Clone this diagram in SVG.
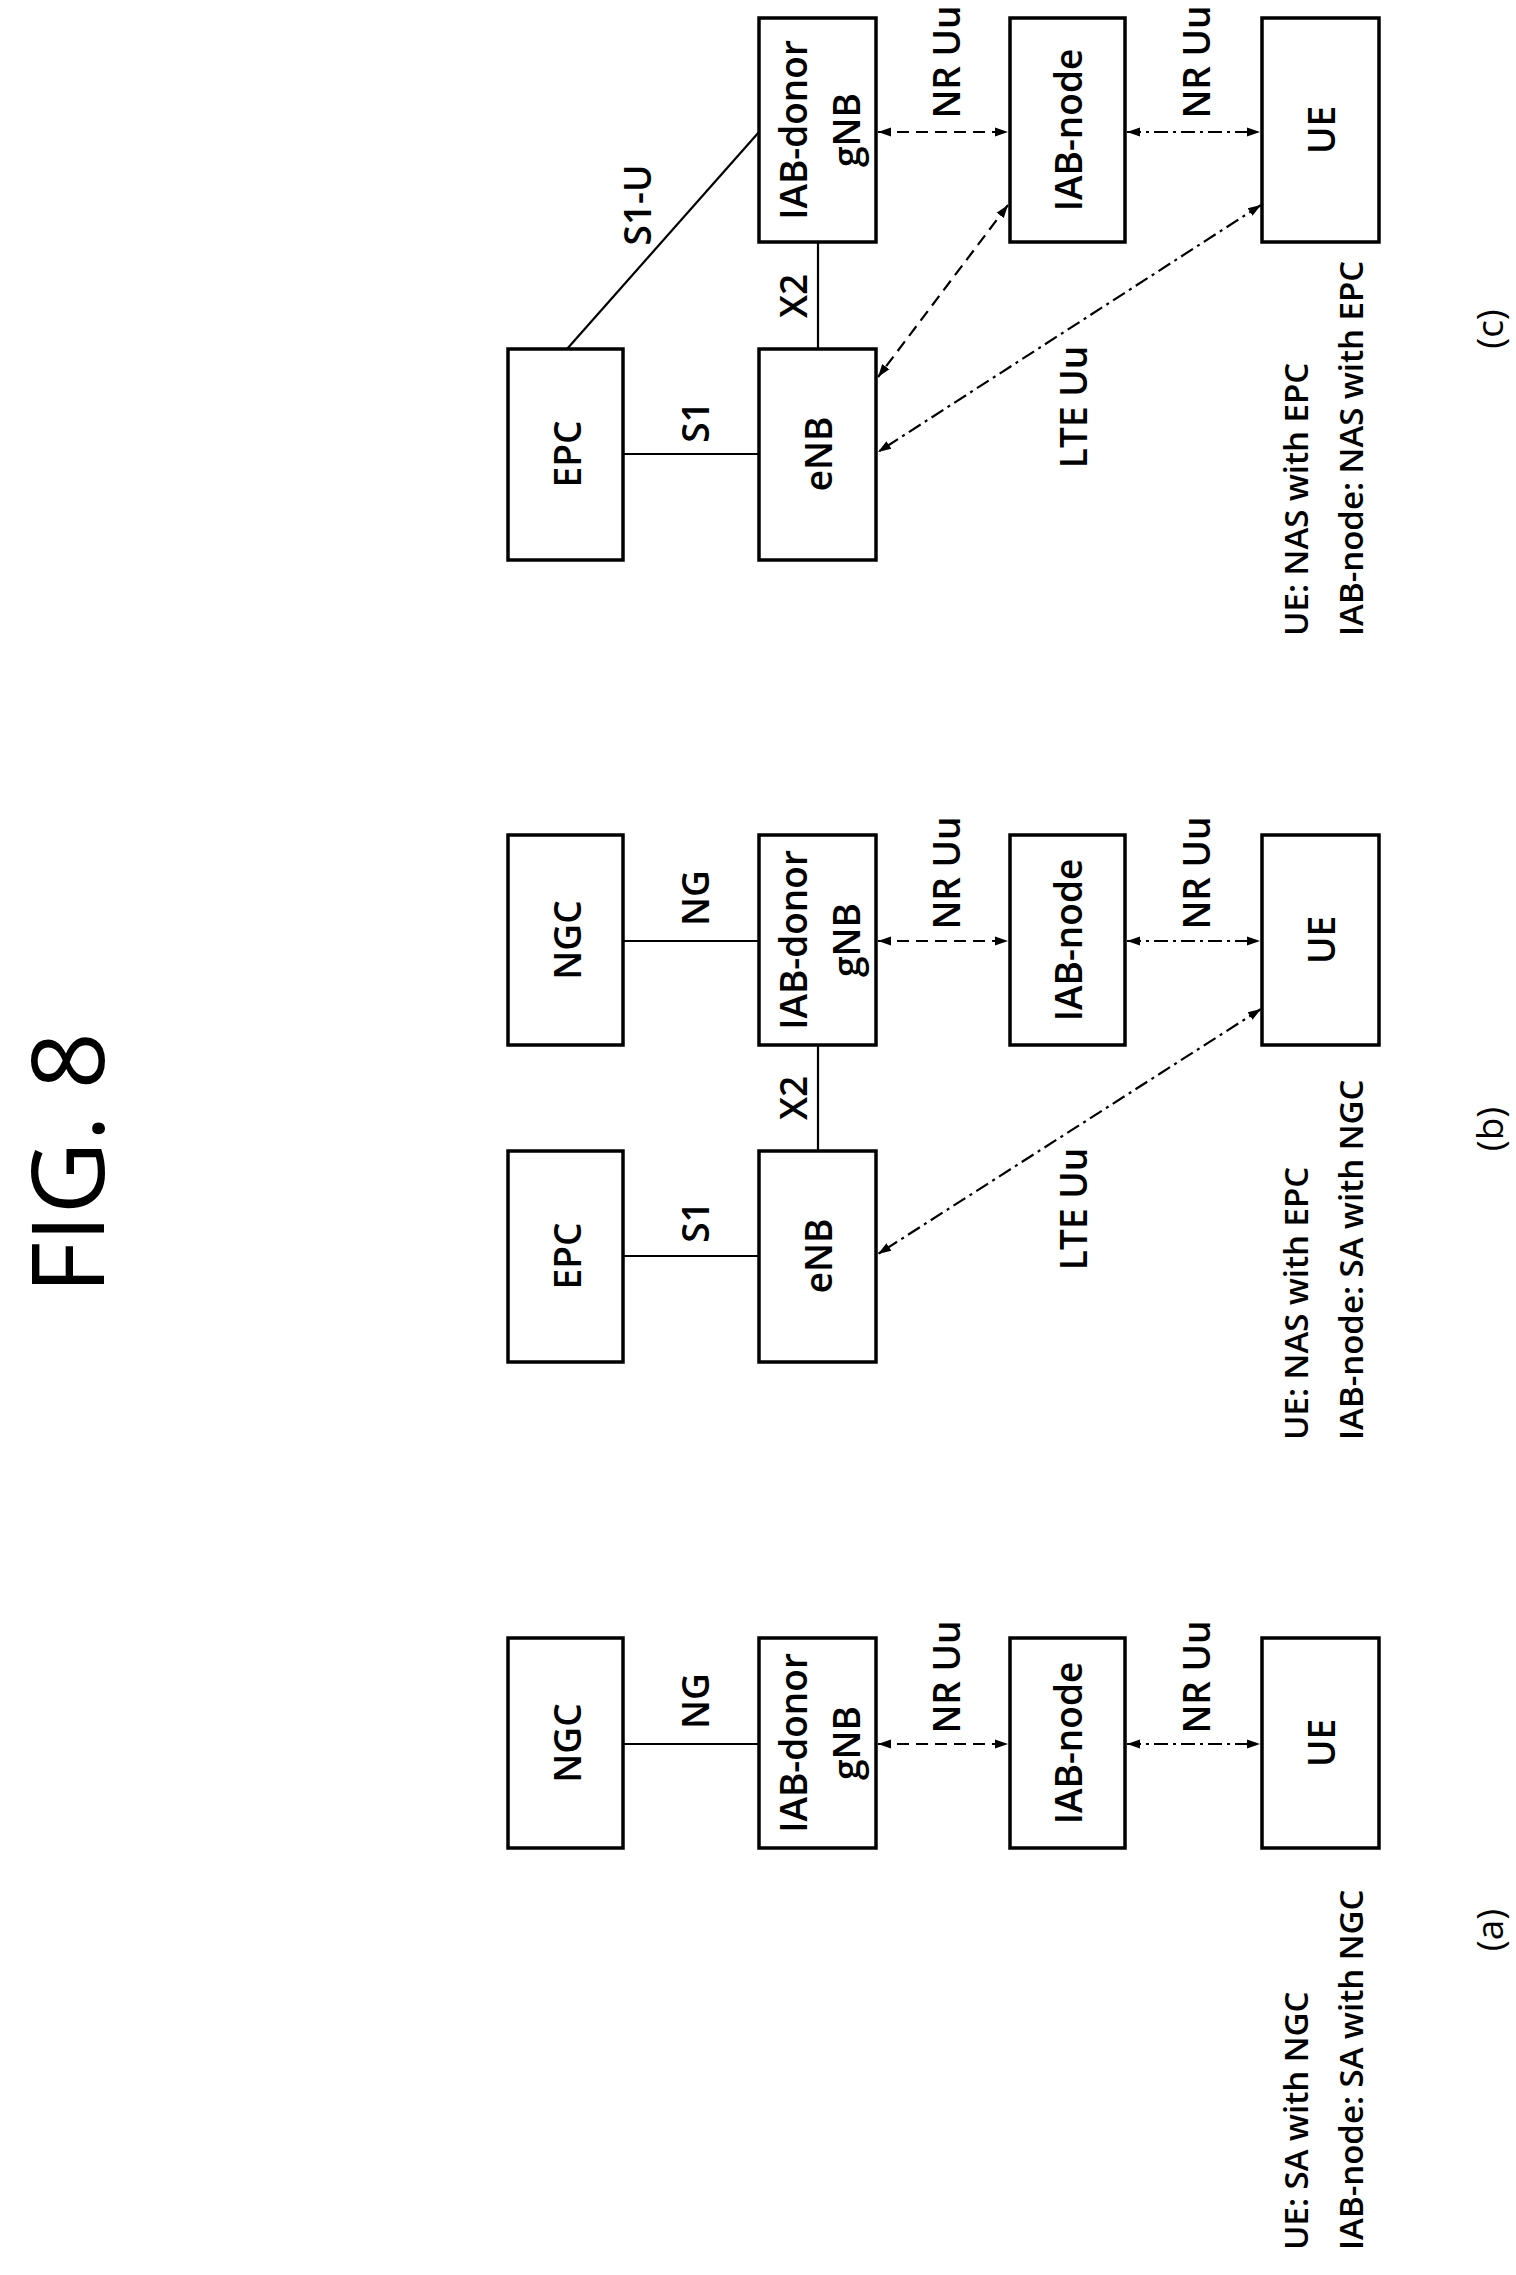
<svg xmlns="http://www.w3.org/2000/svg" width="1516" height="2275" viewBox="0 0 1516 2275">
<style>
.b{fill:#fff;stroke:#000;stroke-width:3.5}
.t{font-family:"Open Sans","Noto Sans",sans-serif;font-size:37px;font-weight:600;fill:#000;text-anchor:middle;dominant-baseline:central}
.s{font-family:"Open Sans","Noto Sans",sans-serif;font-size:33px;font-weight:600;fill:#000;text-anchor:start;dominant-baseline:central}
.l{fill:none;stroke:#000;stroke-width:2.2}
.d{stroke-dasharray:12 7}
.dd{stroke-dasharray:14 5 3 5}
.a{marker-start:url(#ar);marker-end:url(#ar)}
</style>
<defs>
<marker id="ar" viewBox="0 0 10 10" refX="10" refY="5" markerWidth="13" markerHeight="13" markerUnits="userSpaceOnUse" orient="auto-start-reverse"><path d="M0,1.5 L10,5 L0,8.5 z" fill="#000"/></marker>
</defs>
<text class="t" style="font-size:100px;font-weight:400" transform="translate(65,1163) rotate(-90)">FIG. 8</text>

<g id="connectors">
<line class="l" x1="623" y1="454" x2="759" y2="454"/>
<line class="l" x1="567" y1="349" x2="759" y2="132"/>
<line class="l" x1="818" y1="242" x2="818" y2="349"/>
<line class="l d a" x1="878" y1="132" x2="1008" y2="132"/>
<line class="l dd a" x1="1127" y1="132" x2="1260" y2="132"/>
<line class="l d a" x1="1008" y1="205" x2="878" y2="377"/>
<line class="l dd a" x1="1261" y1="205" x2="878" y2="452"/>
<line class="l" x1="623" y1="941" x2="759" y2="941"/>
<line class="l" x1="623" y1="1256" x2="759" y2="1256"/>
<line class="l" x1="818" y1="1045" x2="818" y2="1151"/>
<line class="l d a" x1="878" y1="941" x2="1008" y2="941"/>
<line class="l dd a" x1="1127" y1="941" x2="1260" y2="941"/>
<line class="l dd a" x1="1261" y1="1009" x2="878" y2="1254"/>
<line class="l" x1="623" y1="1744" x2="759" y2="1744"/>
<line class="l d a" x1="878" y1="1744" x2="1008" y2="1744"/>
<line class="l dd a" x1="1127" y1="1744" x2="1260" y2="1744"/>
</g>
<g id="conn-labels">
<text class="t" transform="translate(694,422) rotate(-90)">S1</text>
<text class="t" transform="translate(636,205) rotate(-90)">S1-U</text>
<text class="t" transform="translate(792,296) rotate(-90)">X2</text>
<text class="t" transform="translate(945,62) rotate(-90)">NR Uu</text>
<text class="t" transform="translate(1195,62) rotate(-90)">NR Uu</text>
<text class="t" transform="translate(1072,407) rotate(-90)">LTE Uu</text>
<text class="t" transform="translate(694,898) rotate(-90)">NG</text>
<text class="t" transform="translate(694,1222) rotate(-90)">S1</text>
<text class="t" transform="translate(792,1098) rotate(-90)">X2</text>
<text class="t" transform="translate(945,873) rotate(-90)">NR Uu</text>
<text class="t" transform="translate(1195,873) rotate(-90)">NR Uu</text>
<text class="t" transform="translate(1072,1209) rotate(-90)">LTE Uu</text>
<text class="t" transform="translate(694,1701) rotate(-90)">NG</text>
<text class="t" transform="translate(945,1677) rotate(-90)">NR Uu</text>
<text class="t" transform="translate(1195,1677) rotate(-90)">NR Uu</text>
</g>

<g id="c-epc"><rect class="b" x="508" y="349" width="115" height="211"/><text class="t" transform="translate(566,454) rotate(-90)">EPC</text></g>
<g id="c-enb"><rect class="b" x="759" y="349" width="117" height="211"/><text class="t" transform="translate(817,454) rotate(-90)">eNB</text></g>
<g id="c-donor"><rect class="b" x="759" y="18" width="117" height="224"/><text class="t" transform="translate(792,130) rotate(-90)">IAB-donor</text><text class="t" transform="translate(845,130) rotate(-90)">gNB</text></g>
<g id="c-node"><rect class="b" x="1010" y="18" width="115" height="224"/><text class="t" transform="translate(1067,130) rotate(-90)">IAB-node</text></g>
<g id="c-ue"><rect class="b" x="1262" y="18" width="117" height="224"/><text class="t" transform="translate(1320,130) rotate(-90)">UE</text></g>
<g id="c-text"><text class="s" transform="translate(1295,636) rotate(-90)">UE: NAS with EPC</text><text class="s" transform="translate(1350,636) rotate(-90)">IAB-node: NAS with EPC</text><text class="t" style="font-weight:400" transform="translate(1488,329) rotate(-90)">(c)</text></g>

<g id="b-ngc"><rect class="b" x="508" y="835" width="115" height="210"/><text class="t" transform="translate(566,940) rotate(-90)">NGC</text></g>
<g id="b-donor"><rect class="b" x="759" y="835" width="117" height="210"/><text class="t" transform="translate(792,940) rotate(-90)">IAB-donor</text><text class="t" transform="translate(845,940) rotate(-90)">gNB</text></g>
<g id="b-node"><rect class="b" x="1010" y="835" width="115" height="210"/><text class="t" transform="translate(1067,940) rotate(-90)">IAB-node</text></g>
<g id="b-ue"><rect class="b" x="1262" y="835" width="117" height="210"/><text class="t" transform="translate(1320,940) rotate(-90)">UE</text></g>
<g id="b-epc"><rect class="b" x="508" y="1151" width="115" height="211"/><text class="t" transform="translate(566,1256) rotate(-90)">EPC</text></g>
<g id="b-enb"><rect class="b" x="759" y="1151" width="117" height="211"/><text class="t" transform="translate(817,1256) rotate(-90)">eNB</text></g>
<g id="b-text"><text class="s" transform="translate(1295,1440) rotate(-90)">UE: NAS with EPC</text><text class="s" transform="translate(1350,1440) rotate(-90)">IAB-node: SA with NGC</text><text class="t" style="font-weight:400" transform="translate(1488,1129) rotate(-90)">(b)</text></g>

<g id="a-ngc"><rect class="b" x="508" y="1638" width="115" height="210"/><text class="t" transform="translate(566,1743) rotate(-90)">NGC</text></g>
<g id="a-donor"><rect class="b" x="759" y="1638" width="117" height="210"/><text class="t" transform="translate(792,1743) rotate(-90)">IAB-donor</text><text class="t" transform="translate(845,1743) rotate(-90)">gNB</text></g>
<g id="a-node"><rect class="b" x="1010" y="1638" width="115" height="210"/><text class="t" transform="translate(1067,1743) rotate(-90)">IAB-node</text></g>
<g id="a-ue"><rect class="b" x="1262" y="1638" width="117" height="210"/><text class="t" transform="translate(1320,1743) rotate(-90)">UE</text></g>
<g id="a-text"><text class="s" transform="translate(1295,2250) rotate(-90)">UE: SA with NGC</text><text class="s" transform="translate(1350,2250) rotate(-90)">IAB-node: SA with NGC</text><text class="t" style="font-weight:400" transform="translate(1488,1930) rotate(-90)">(a)</text></g>
</svg>
